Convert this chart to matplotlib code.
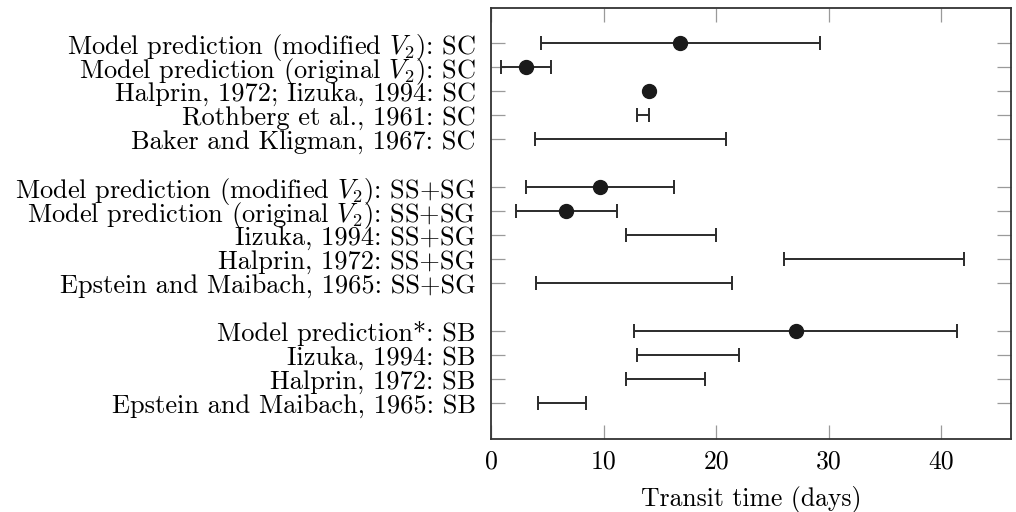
import matplotlib
matplotlib.use("Agg")
import matplotlib.pyplot as plt
import numpy as np

# ---- data ----
labels = [
    "Model prediction (modified $V_2$): SC",
    "Model prediction (original $V_2$): SC",
    "Halprin, 1972; Iizuka, 1994: SC",
    "Rothberg et al., 1961: SC",
    "Baker and Kligman, 1967: SC",
    "Model prediction (modified $V_2$): SS+SG",
    "Model prediction (original $V_2$): SS+SG",
    "Iizuka, 1994: SS+SG",
    "Halprin, 1972: SS+SG",
    "Epstein and Maibach, 1965: SS+SG",
    "Model prediction*: SB",
    "Iizuka, 1994: SB",
    "Halprin, 1972: SB",
    "Epstein and Maibach, 1965: SB",
]
rows = [0, 1, 2, 3, 4, 6, 7, 8, 9, 10, 12, 13, 14, 15]
low = [4.4, 0.9, None, 13.0, 3.9, 3.1, 2.2, 12.0, 26.0, 4.0, 12.7, 13.0, 12.0, 4.2]
high = [29.2, 5.3, None, 14.0, 20.9, 16.3, 11.2, 20.0, 42.0, 21.4, 41.4, 22.0, 19.0, 8.4]
point = [16.8, 3.1, 14.0, None, None, 9.7, 6.7, None, None, None, 27.1, None, None, None]
xticks = [0, 10, 20, 30, 40]
xlabel = "Transit time (days)"

plt.rcParams["font.family"] = ["cmr10", "DejaVu Serif"]
plt.rcParams["mathtext.fontset"] = "cm"
plt.rcParams["axes.unicode_minus"] = False
plt.rcParams["axes.formatter.use_mathtext"] = True

fig = plt.figure(figsize=(10.16, 5.12), dpi=100)
ax = fig.add_axes([491 / 1016, 1 - 439 / 512, 520 / 1016, 431 / 512])

dark = "#2b2b2b"
for r, lo, hi, p in zip(rows, low, high, point):
    if lo is not None:
        ax.errorbar([(lo + hi) / 2], [r], xerr=[[(hi - lo) / 2], [(hi - lo) / 2]],
                    fmt="none", ecolor=dark, elinewidth=1.4, capsize=5, capthick=1.4)
    if p is not None:
        ax.plot([p], [r], "o", color="#1a1a1a", markersize=10, zorder=5)

ax.set_xlim(0, 46.2)
ax.set_ylim(16.5, -1.47)
ax.set_yticks(rows)
ax.set_yticklabels(labels, fontsize=19)
ax.set_xticks(xticks)
ax.set_xticklabels([str(t) for t in xticks], fontsize=18.5)
ax.set_xlabel(xlabel, fontsize=18.5, labelpad=9)

ax.tick_params(axis="both", direction="in", length=10, width=0.9, color="#9a9a9a",
               top=True, right=True)
ax.tick_params(axis="y", pad=11)
ax.tick_params(axis="x", pad=8)
for s in ax.spines.values():
    s.set_color("#333333")
    s.set_linewidth(1.3)

fig.savefig("out.png", dpi=100)
